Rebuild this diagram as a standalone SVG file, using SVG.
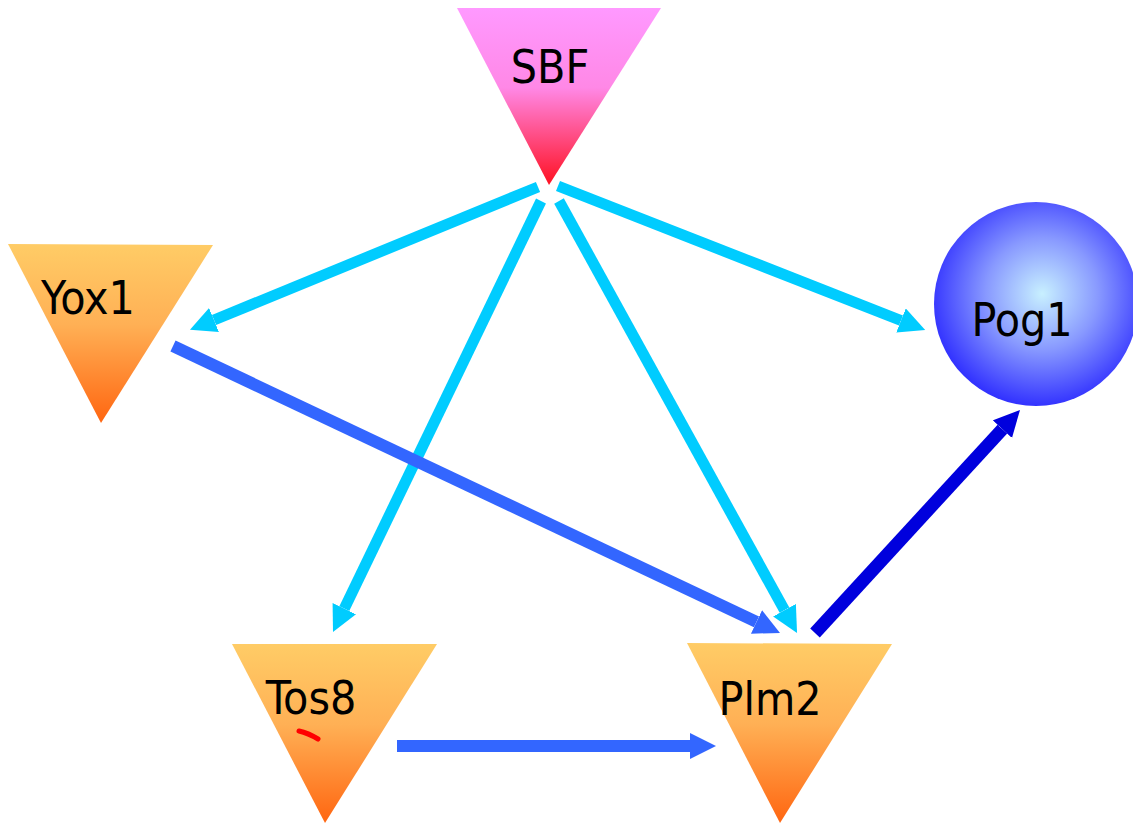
<svg xmlns="http://www.w3.org/2000/svg" width="1133" height="823" viewBox="0 0 1133 823">
<defs>
<linearGradient id="gPink" x1="0" y1="0" x2="0" y2="1">
<stop offset="0" stop-color="#ff99ff"/>
<stop offset="0.45" stop-color="#ff88e6"/>
<stop offset="1" stop-color="#ff1122"/>
</linearGradient>
<linearGradient id="gOrange" x1="0" y1="0" x2="0" y2="1">
<stop offset="0" stop-color="#ffcc66"/>
<stop offset="0.45" stop-color="#ffb055"/>
<stop offset="1" stop-color="#ff6611"/>
</linearGradient>
<radialGradient id="gBlue" cx="0.53" cy="0.45" r="0.55" fx="0.53" fy="0.45">
<stop offset="0" stop-color="#c8f0ff"/>
<stop offset="0.5" stop-color="#8899ff"/>
<stop offset="1" stop-color="#3333ff"/>
</radialGradient>
<marker id="aCyan" markerUnits="userSpaceOnUse" markerWidth="30" markerHeight="30" refX="0" refY="13" orient="auto" viewBox="0 0 30 30">
<path d="M0,0 L26,13 L0,26 Z" fill="#00ccff"/>
</marker>
<marker id="aBlue" markerUnits="userSpaceOnUse" markerWidth="30" markerHeight="30" refX="0" refY="13" orient="auto" viewBox="0 0 30 30">
<path d="M0,0 L26,13 L0,26 Z" fill="#3366ff"/>
</marker>
<marker id="aDark" markerUnits="userSpaceOnUse" markerWidth="30" markerHeight="30" refX="0" refY="13" orient="auto" viewBox="0 0 30 30">
<path d="M0,0 L26,13 L0,26 Z" fill="#0000dd"/>
</marker>
</defs>
<style>
text { font-family: "DejaVu Sans Condensed", "DejaVu Sans", sans-serif; font-size: 46px; fill: #000; }
.cyan { stroke: #00ccff; stroke-width: 11; fill: none; marker-end: url(#aCyan); }
.blue { stroke: #3366ff; stroke-width: 12; fill: none; marker-end: url(#aBlue); }
.dark { stroke: #0000dd; stroke-width: 13; fill: none; marker-end: url(#aDark); }
</style>
<g id="SBF">
<polygon points="457,8 661,8 549,185" fill="url(#gPink)"/>
<text x="550" y="83" text-anchor="middle">SBF</text>
</g>
<g id="Yox1">
<polygon points="8,244 213,245 101,423" fill="url(#gOrange)"/>
<text x="88" y="314" text-anchor="middle">Yox1</text>
</g>
<g id="Pog1">
<circle cx="1036" cy="304" r="102" fill="url(#gBlue)"/>
<text x="1022" y="336" text-anchor="middle">Pog1</text>
</g>
<g id="Tos8">
<polygon points="232,644 437,644 325,823" fill="url(#gOrange)"/>
<text x="311" y="714" text-anchor="middle">Tos8</text>
<path d="M299,731 Q308,733 318,739" stroke="#ff0000" stroke-width="5" stroke-linecap="round" fill="none"/>
</g>
<g id="Plm2">
<polygon points="687,643 892,644 780,823" fill="url(#gOrange)"/>
<text x="770" y="715" text-anchor="middle">Plm2</text>
</g>
<g id="connectors">
<path class="cyan" d="M538,187 L214,320"/>
<path class="cyan" d="M558,186 L901,320.5"/>
<path class="cyan" d="M541,201 L344.3,608.6"/>
<path class="cyan" d="M559,201 L784.5,610.2"/>
<path class="blue" d="M173,346 L756.5,621.9"/>
<path class="blue" d="M397,746 L690,746"/>
<path class="dark" d="M815,633 L1002.4,429.1"/>
</g>
</svg>
